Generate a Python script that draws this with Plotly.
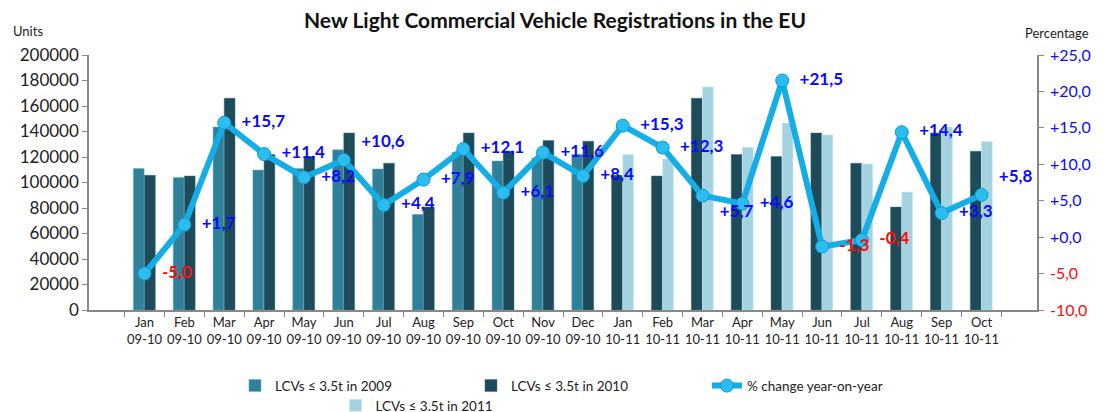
"""
    Monthly LCV registrations in the EU, bars plus yearly % change line.
"""

import plotly.graph_objects as go

months = ["Jan", "Feb", "Mar", "Apr", "May", "Jun", "Jul", "Aug", "Sep", "Oct", "Nov", "Dec",
          "Jan", "Feb", "Mar", "Apr", "May", "Jun", "Jul", "Aug", "Sep", "Oct"]
periods = ["09-10"] * 12 + ["10-11"] * 10

units_2009 = [110900, 104000, 143500, 109800, 110900, 125600, 110600, 74900, 123800, 116900, 119200, 122100]
units_2010 = [105600, 105100, 166100, 121900, 120400, 138800, 115100, 80700, 138800, 124500, 133000, 132400]
units_2011 = [121900, 118500, 175000, 127700, 146600, 137200, 114600, 92500, 143500, 132200]

pct_change = [-5.0, 1.7, 15.7, 11.4, 8.2, 10.6, 4.4, 7.9, 12.1, 6.1, 11.6, 8.4,
              15.3, 12.3, 5.7, 4.6, 21.5, -1.3, -0.4, 14.4, 3.3, 5.8]

pct_ticks = [-10, -5, 0, 5, 10, 15, 20, 25]

FONT = "Lato"
C2009 = "#2f8098"
C2010 = "#1d4b5a"
C2011 = "#a3d3e1"
CLINE = "#14ade6"
BLUE = "#0a0aff"
RED = "#ff0a0a"

cats = [f"{m}<br>{p}" for m, p in zip(months, periods)]
n_old = len(units_2009)
bw = 0.27

fig = go.Figure()
fig.add_trace(go.Bar(
    x=cats[:n_old], y=units_2009, name="LCVs ≤ 3.5t in 2009",
    marker=dict(color=C2009, line=dict(color="#5fb0c8", width=0.5)),
    width=bw, offset=-bw - 0.01, legend="legend",
))
fig.add_trace(go.Bar(
    x=cats, y=units_2010 + units_2010[:len(units_2011)], name="LCVs ≤ 3.5t in 2010",
    marker=dict(color=C2010, line=dict(color="#3d6e7e", width=0.5)),
    width=bw, offset=[0] * n_old + [-bw - 0.01] * len(units_2011), legend="legend",
))
fig.add_trace(go.Bar(
    x=cats[n_old:], y=units_2011, name="LCVs ≤ 3.5t in 2011",
    marker=dict(color=C2011, line=dict(color="#c8e8f0", width=0.5)),
    width=bw, offset=0, legend="legend2",
))

# label placement tweaks where the original nudged them
positions = ["middle right"] * len(pct_change)
positions[5] = "top right"
positions[14] = "bottom right"
positions[21] = "top right"

fig.add_trace(go.Scatter(
    x=cats, y=pct_change, yaxis="y2", name="% change year-on-year",
    mode="lines+markers+text",
    line=dict(color=CLINE, width=6),
    marker=dict(size=13, color="#2bbcf0", line=dict(color="#0e9ad2", width=1)),
    text=["  " + f"{v:+.1f}".replace(".", ",") for v in pct_change],
    textposition=positions,
    textfont=dict(family=FONT, size=17, color=[RED if v < 0 else BLUE for v in pct_change],
                  weight="bold"),
    legend="legend",
))

# the page body adds 8px around the figure, so margins are shifted by that much
fig.update_layout(
    width=1104, height=412,
    margin=dict(l=81, r=75, t=47, b=110),
    plot_bgcolor="white", paper_bgcolor="white",
    barmode="overlay",
    font=dict(family=FONT, size=17, color="#222"),
    title=dict(text="<b>New Light Commercial Vehicle Registrations in the EU</b>",
               x=0.4955, xanchor="center", y=0.969, yanchor="middle",
               font=dict(family=FONT, size=21, color="#111")),
    xaxis=dict(showgrid=False, showline=True, linecolor="#888", linewidth=1.5,
               ticks="outside", tickson="boundaries", ticklen=5, tickcolor="#888",
               tickfont=dict(size=13, color="#222"), tickangle=0, automargin=False),
    yaxis=dict(range=[0, 200000], dtick=20000, showgrid=False, showline=True,
               linecolor="#888", linewidth=1.5, ticks="outside", ticklen=5, tickcolor="#888",
               tickformat="d", zeroline=False, automargin=False),
    yaxis2=dict(overlaying="y", side="right", range=[-10, 25], showgrid=False,
                showline=True, linecolor="#888", linewidth=1.5, ticks="outside", ticklen=5,
                tickcolor="#888", zeroline=False, tickvals=pct_ticks, automargin=False,
                ticklabelstandoff=3, tickfont=dict(size=16),
                ticktext=[f"<span style='color:{RED if t < 0 else BLUE}'>"
                          + f"{t:+.1f}".replace(".", ",") + "</span>" for t in pct_ticks]),
    legend=dict(orientation="h", xref="container", yref="container",
                x=0.2056, y=0.083, xanchor="left", yanchor="middle",
                entrywidth=191, entrywidthmode="pixels",
                font=dict(size=13.5, color="#222"), bgcolor="rgba(0,0,0,0)"),
    legend2=dict(orientation="h", xref="container", yref="container",
                 x=0.2967, y=0.035, xanchor="left", yanchor="middle",
                 font=dict(size=13.5, color="#222"), bgcolor="rgba(0,0,0,0)"),
    showlegend=True,
)

fig.add_annotation(text="Units", xref="paper", yref="paper", x=-0.0643, y=1.094,
                   xanchor="center", yanchor="middle",
                   showarrow=False, font=dict(size=13, color="#222"))
fig.add_annotation(text="Percentage", xref="paper", yref="paper", x=1.021, y=1.086,
                   xanchor="center", yanchor="middle",
                   showarrow=False, font=dict(size=13, color="#222"))

fig.write_html("out.html")
